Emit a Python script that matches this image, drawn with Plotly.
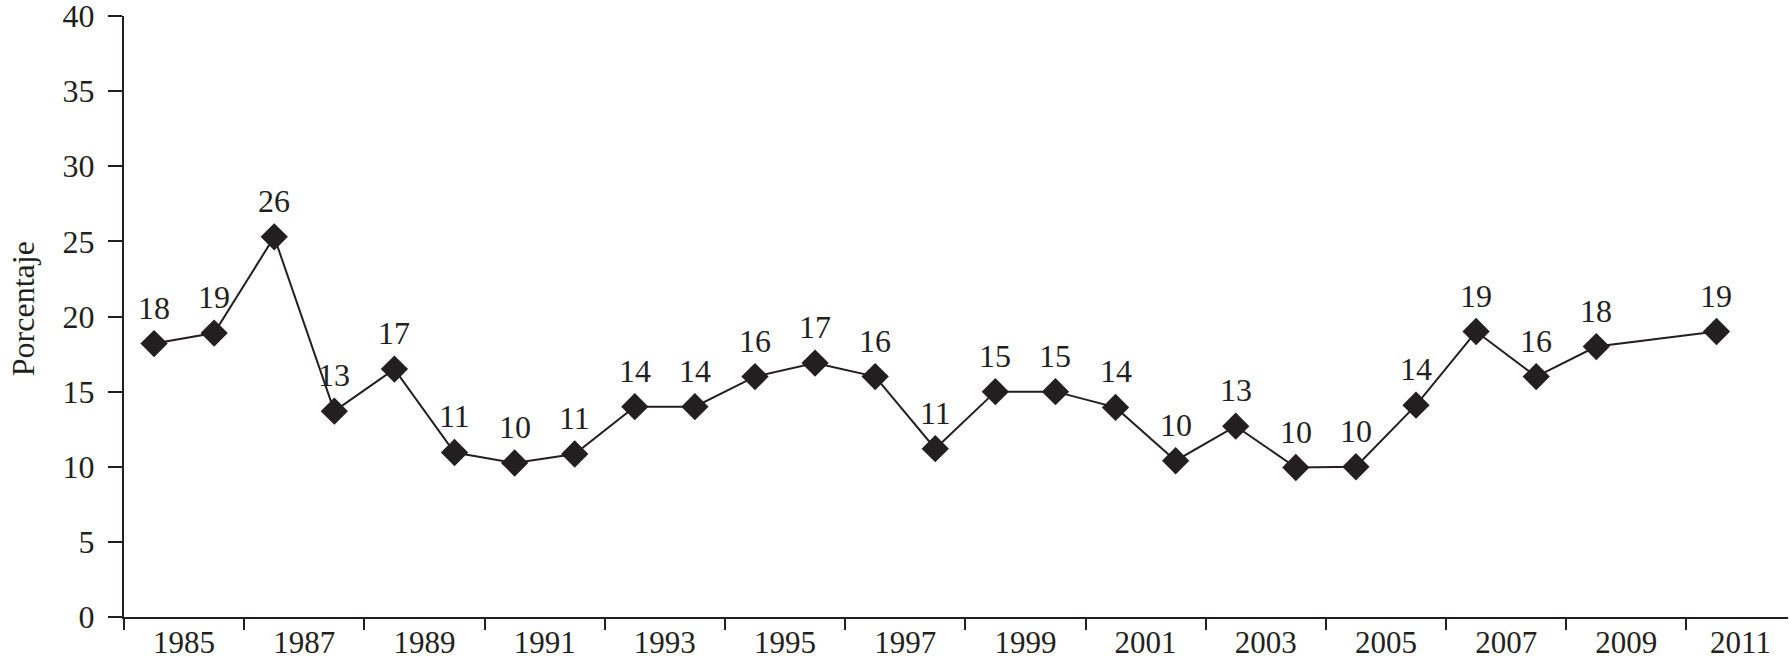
import plotly.graph_objects as go

years = [1985, 1986, 1987, 1988, 1989, 1990, 1991, 1992, 1993, 1994, 1995, 1996, 1997,
         1998, 1999, 2000, 2001, 2002, 2003, 2004, 2005, 2006, 2007, 2008, 2009, 2011]
values = [18.2, 18.9, 25.3, 13.7, 16.5, 10.95, 10.25, 10.85, 14.0, 14.0, 16.0, 16.9, 16.0,
          11.2, 15.0, 15.0, 13.95, 10.4, 12.7, 9.95, 10.0, 14.1, 19.0, 16.0, 18.0, 19.0]
labels = ["18", "19", "26", "13", "17", "11", "10", "11", "14", "14", "16", "17", "16",
          "11", "15", "15", "14", "10", "13", "10", "10", "14", "19", "16", "18", "19"]
tick_labels = ["1985", "1987", "1989", "1991", "1993", "1995", "1997", "1999",
               "2001", "2003", "2005", "2007", "2009", "2011"]
y_title = "Porcentaje"

INK = "#231f20"
FONT = "Liberation Serif"
FS = 32

label_pos = [int(t) + 0.5 for t in tick_labels[:-1]] + [int(tick_labels[-1]) + 0.4]
boundaries = [1984.5 + 2 * i for i in range(14)]

fig = go.Figure()
fig.add_trace(go.Scatter(
    x=years, y=values, mode="lines+markers",
    line=dict(color=INK, width=2),
    marker=dict(symbol="diamond", size=21, color=INK),
    showlegend=False, hoverinfo="skip",
))

for xv, yv, t in zip(years, values, labels):
    fig.add_annotation(x=xv, y=yv, xref="x", yref="y", text=t, showarrow=False,
                       yanchor="bottom", yshift=16,
                       font=dict(family=FONT, size=FS, color=INK))

fig.add_annotation(x=-0.061, y=0.513, xref="paper", yref="paper", text=y_title,
                   textangle=-90, showarrow=False, xanchor="center", yanchor="middle",
                   font=dict(family=FONT, size=FS, color=INK))

fig.update_layout(
    template="none",
    width=1789, height=663,
    margin=dict(l=124, r=1, t=16, b=46, autoexpand=False),
    paper_bgcolor="white", plot_bgcolor="white",
    font=dict(family=FONT, size=FS, color=INK),
    xaxis=dict(
        range=[1984.5, 2012.19], showgrid=False, zeroline=False, automargin=False,
        showline=True, linecolor=INK, linewidth=2,
        tickmode="array", tickvals=label_pos, ticktext=tick_labels, ticks="",
        ticklabelstandoff=-3,
        minor=dict(tickmode="array", tickvals=boundaries, ticks="outside",
                   ticklen=11, tickwidth=2, tickcolor=INK, showgrid=False),
        tickfont=dict(family=FONT, size=31, color=INK),
    ),
    yaxis=dict(
        range=[0, 40], dtick=5, tick0=0, tickmode="linear",
        showgrid=False, zeroline=False, automargin=False,
        showline=True, linecolor=INK, linewidth=2,
        ticks="outside", ticklen=14, tickwidth=2, tickcolor=INK,
        ticklabelstandoff=7, ticklabeloverflow="allow",
        tickfont=dict(family=FONT, size=FS, color=INK),
    ),
)

fig.write_html(
    "out.html",
    config={"displayModeBar": False, "staticPlot": True},
    post_script="document.body.style.margin='0px';document.body.style.overflow='hidden';",
)
